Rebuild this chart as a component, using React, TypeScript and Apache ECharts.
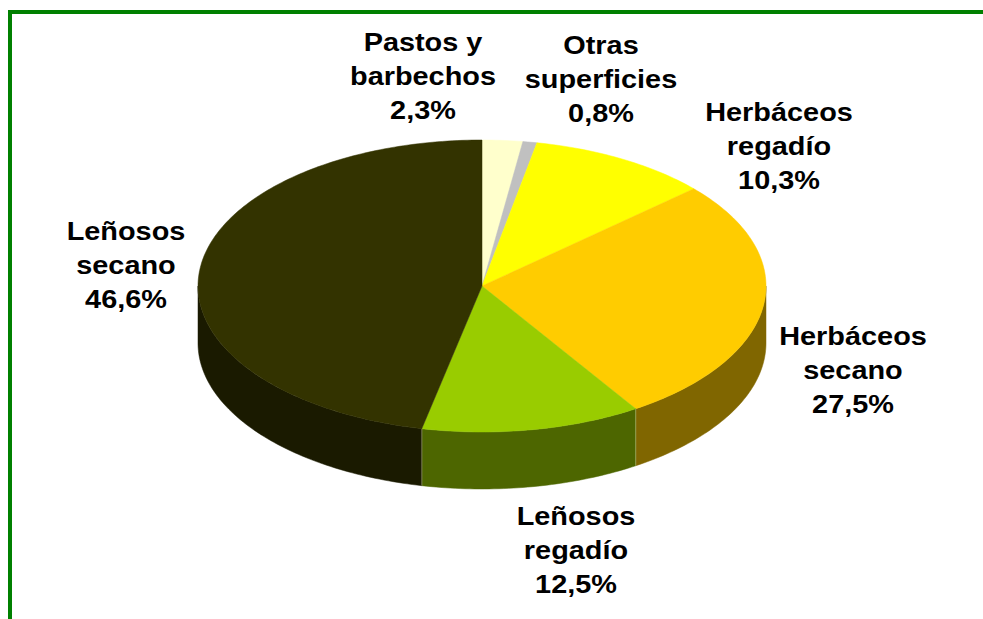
import React, { useEffect, useRef } from "react";
import * as echarts from "echarts";

const categories = [
  "Pastos y\nbarbechos",
  "Otras\nsuperficies",
  "Herbáceos\nregadío",
  "Herbáceos\nsecano",
  "Leñosos\nregadío",
  "Leñosos\nsecano",
];
const shares = [2.3, 0.8, 10.3, 27.5, 12.5, 46.6];
const topColors = ["#FFFFCC", "#C0C0C0", "#FFFF00", "#FFCC00", "#99CC00", "#333300"];
const sideColors = ["#808066", "#606060", "#808000", "#806600", "#4D6600", "#1A1A00"];
const labelCentres = [
  [423, 77],
  [601, 80],
  [779, 147],
  [853, 371],
  [576, 551],
  [126, 266],
];

const CX = 482;
const CY = 286;
const RX = 284;
const RY = 146;
const DEPTH = 57;
const TOTAL = shares.reduce((a, b) => a + b, 0);

const rim = (deg: number, drop = 0) => {
  const r = (deg * Math.PI) / 180;
  return [CX + RX * Math.sin(r), CY - RY * Math.cos(r) + drop];
};
const arc = (from: number, to: number, drop = 0) => {
  const pts: number[][] = [];
  const n = Math.max(2, Math.ceil(to - from));
  for (let i = 0; i <= n; i++) pts.push(rim(from + ((to - from) * i) / n, drop));
  return pts;
};

function renderSlice(params: any, api: any) {
  const i = params.dataIndex;
  const value = api.value(0);
  const before = shares.slice(0, i).reduce((a, b) => a + b, 0);
  const t0 = (before / TOTAL) * 360;
  const t1 = ((before + value) / TOTAL) * 360;
  const children: any[] = [];

  const s0 = Math.max(t0, 90);
  const s1 = Math.min(t1, 270);
  if (s1 > s0) {
    const top = arc(s0, s1);
    const bottom = arc(s0, s1, DEPTH).reverse();
    children.push({
      type: "polygon",
      shape: { points: [...top, ...bottom] },
      style: { fill: sideColors[i], stroke: sideColors[i], lineWidth: 0.5 },
    });
    [t0, t1].forEach((t) => {
      if (t > 90 && t < 270) {
        const [x, y] = rim(t);
        children.push({
          type: "line",
          shape: { x1: x, y1: y, x2: x, y2: y + DEPTH },
          style: { stroke: "rgba(255,255,204,0.3)", lineWidth: 1 },
        });
      }
    });
  }

  children.push({
    type: "polygon",
    shape: { points: [[CX, CY], ...arc(t0, t1)] },
    style: { fill: topColors[i], stroke: topColors[i], lineWidth: 0.5 },
  });

  const [lx, ly] = labelCentres[i];
  children.push({
    type: "text",
    x: lx,
    y: ly,
    scaleX: 1.155,
    z2: 10,
    style: {
      text: `${categories[i]}\n${value.toFixed(1).replace(".", ",")}%`,
      fontFamily: "Liberation Sans",
      fontSize: 25,
      fontWeight: "bold",
      lineHeight: 34,
      fill: "#000000",
      align: "center",
      verticalAlign: "middle",
    },
  });

  return { type: "group", children };
}

export default function App() {
  const ref = useRef<HTMLDivElement>(null);
  useEffect(() => {
    document.body.style.margin = "0";
    const chart = echarts.init(ref.current!, undefined, { renderer: "svg" });
    chart.setOption({
      animation: false,
      backgroundColor: "#FFFFFF",
      graphic: [
        { type: "rect", shape: { x: 8, y: 10, width: 975, height: 4 }, style: { fill: "#008000" } },
        { type: "rect", shape: { x: 8, y: 10, width: 4, height: 609 }, style: { fill: "#008000" } },
      ],
      series: [
        {
          type: "custom",
          coordinateSystem: "none",
          silent: true,
          data: shares.map((v) => [v]),
          renderItem: renderSlice,
        },
      ],
    });
    return () => chart.dispose();
  }, []);
  return <div ref={ref} style={{ width: 983, height: 619 }} />;
}
